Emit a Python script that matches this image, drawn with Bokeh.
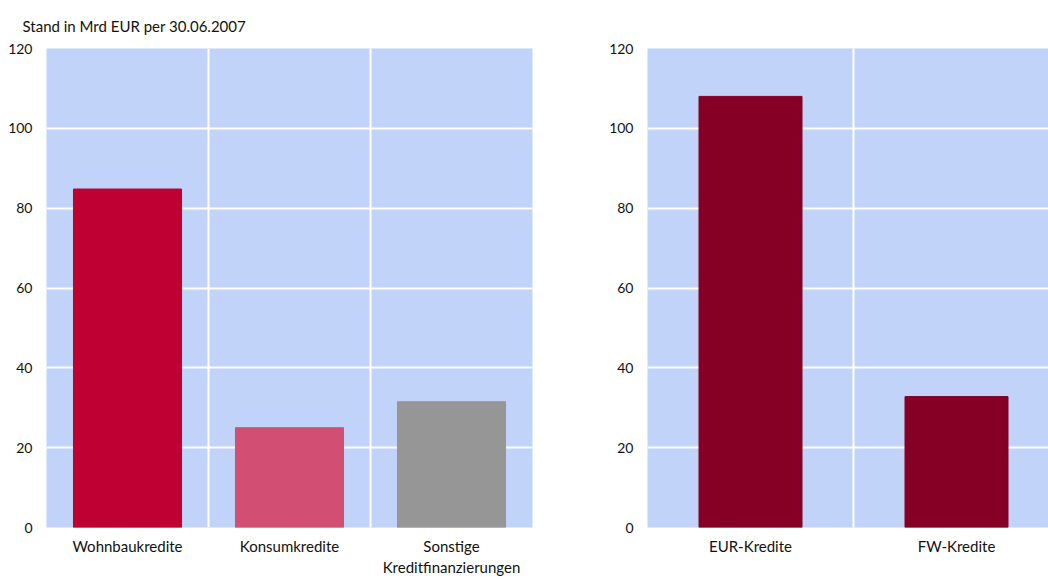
from bokeh.plotting import figure
from bokeh.layouts import row
from bokeh.models import FixedTicker, Title, ColumnDataSource
from bokeh.embed import file_html
from bokeh.resources import INLINE

# ---- data ----
title_text = "Stand in Mrd EUR per 30.06.2007"
left_categories = ["Wohnbaukredite", "Konsumkredite", "Sonstige\nKreditfinanzierungen"]
left_values = [84.8, 25.0, 31.5]
left_colors = ["#BE0032", "#D24F73", "#969696"]

right_categories = ["EUR-Kredite", "FW-Kredite"]
right_values = [108.0, 32.8]
right_colors = ["#860026", "#860026"]

y_ticks = [0, 20, 40, 60, 80, 100, 120]

BG = "#C1D3F8"
FONT = "Lato"
TXT = "#111111"


def make_fig(cats, vals, colors, width, bl, br, x_end, bar_w):
    p = figure(width=width, height=579, x_range=(0, x_end), y_range=(0, 120),
               output_backend="svg", toolbar_location=None,
               min_border_left=bl, min_border_right=br,
               min_border_top=48, min_border_bottom=51)
    p.background_fill_color = BG
    p.border_fill_color = "white"
    p.outline_line_color = None
    xs = [i + 0.5 for i in range(len(cats))]
    src = ColumnDataSource(dict(x=xs, top=vals, color=colors))
    p.vbar(x="x", top="top", width=bar_w, color="color", source=src)

    p.xaxis.ticker = FixedTicker(ticks=xs)
    p.xaxis.major_label_overrides = {x: c for x, c in zip(xs, cats)}
    p.yaxis.ticker = FixedTicker(ticks=y_ticks)
    for ax in (p.xaxis, p.yaxis):
        ax.axis_line_color = None
        ax.major_tick_line_color = None
        ax.minor_tick_line_color = None
        ax.major_tick_out = 0
        ax.major_tick_in = 0
        ax.minor_tick_out = 0
        ax.major_label_text_font = FONT
        ax.major_label_text_color = TXT
    p.yaxis.major_label_text_font_size = "14px"
    p.xaxis.major_label_text_font_size = "15px"
    p.xaxis.major_label_text_line_height = 1.2
    p.xaxis.major_label_standoff = 9
    p.yaxis.major_label_standoff = 14

    p.xgrid.ticker = FixedTicker(ticks=[i for i in range(1, len(cats))])
    p.ygrid.ticker = FixedTicker(ticks=y_ticks)
    for g in (p.xgrid, p.ygrid):
        g.grid_line_color = "white"
        g.grid_line_width = 2
    p.xgrid.level = "underlay"
    p.ygrid.level = "underlay"
    return p


left = make_fig(left_categories, left_values, left_colors, 590, 46, 58,
                len(left_categories), 0.667)
right = make_fig(right_categories, right_values, right_colors, 458, 57, 0,
                 401 / 206, 0.5)

t = Title(text=title_text, align="left", vertical_align="top", offset=-24,
          standoff=24, text_font=FONT, text_font_size="15px",
          text_font_style="normal", text_color=TXT)
left.add_layout(t, "above")

layout = row(left, right)
open("out.html", "w").write(file_html(layout, INLINE))
